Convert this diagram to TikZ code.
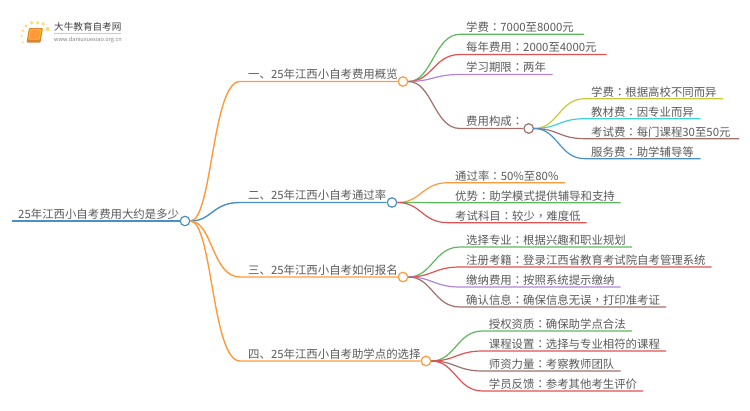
\documentclass[tikz,border=0pt]{standalone}
\usepackage{fontspec}
\setmainfont{Noto Sans CJK SC}
\newfontfamily\puncfont{Noto Sans CJK TC}
\newcommand{\mhao}{{\puncfont ：}}
\newcommand{\dhao}{{\puncfont ，}}
\usetikzlibrary{positioning,arrows.meta}
\definecolor{corange}{HTML}{FF9A3C}
\definecolor{cblue}{HTML}{4A90C8}
\definecolor{cgreen}{HTML}{5DB85D}
\definecolor{cred}{HTML}{E05252}
\definecolor{cpurple}{HTML}{B286D6}
\definecolor{cbrown}{HTML}{A0706A}
\definecolor{colive}{HTML}{C9C940}
\definecolor{ccyan}{HTML}{3FCFE0}
\definecolor{ctext}{HTML}{5A5A5A}
\begin{document}
\begin{tikzpicture}[x=1pt,y=-1pt,
  hub/.style={circle,draw,fill=white,line width=1.2pt,minimum size=9.5pt,inner sep=0pt},
  label/.style={anchor=base west,inner sep=0pt,yshift=2.7pt,text=ctext,font=\fontsize{11.4pt}{13pt}\selectfont},
  trunk/.style={line width=1.4pt},
  twig/.style={line width=1.2pt}]
\useasboundingbox (0,0) rectangle (750,410);
% logo
\foreach \px/\py/\pr in {22.7/30.7/1.4,26/26/1.7,31.7/22.7/1.9,37.7/22.7/1.9,43.3/24/1.9,47.7/29/2.1,21.7/36/1.2,23/42/1}
  \fill[corange!60!yellow,opacity=.6] (\px,\py) circle (\pr);
\fill[corange!85!black,rounded corners=1pt] (29,28) -- (43,28) -- (40.5,42.5) -- (26.5,42.5) -- cycle;
\fill[yellow!60!orange,rounded corners=.6pt] (30,29) -- (41.5,29) -- (39.8,39.5) -- (28.2,39.5) -- cycle;
\fill[corange] (31,29.5) -- (40.5,29.5) -- (38.8,39) -- (29.2,39) -- cycle;
\node[anchor=base west,inner sep=0pt,text=black!75,font=\fontsize{9.6pt}{11pt}\selectfont] (logoname) at (54,30.8) {大牛教育自考网};
\draw[black!20,line width=.5pt] (54,33) -- (121,33);
\node[anchor=base west,inner sep=0pt,text=black!50,font=\fontsize{5.6pt}{7pt}\selectfont] (logourl) at (54,41) {www.daniuxuexiao.org.cn};
% root
\coordinate (start) at (12,221);
\node[hub,draw=cblue] (root) at (185,221) {};
\node[label] (title) at (18,221) {25年江西小自考费用大约是多少};
\draw[trunk,cblue] (start) -- (root.west);
% main branches
\foreach \nm/\yy/\xe/\col/\txt in {a/81.5/403/corange/一、25年江西小自考费用概览,b/202.5/392/cblue/二、25年江西小自考通过率,c/277/403/corange/三、25年江西小自考如何报名,d/361/426/corange/四、25年江西小自考助学点的选择}{
  \coordinate (\nm-s) at (240,\yy);
  \node[hub,draw=\col] (\nm) at (\xe,\yy) {};
  \node[label] (\nm-t) at (248,\yy) {\txt};
  \draw[trunk,color=\col] (root.east) .. controls +(22,0) and +(-28,0) .. (\nm-s) -- (\nm.west);
}
% first branch
\foreach \nm/\yy/\xe/\col/\txt in {a1/34.3/584/cgreen/学费\mhao 7000至8000元,a2/54.5/606.7/cred/每年费用\mhao 2000至4000元,a3/74.5/552.7/cpurple/学习期限\mhao 两年}{
  \coordinate (\nm-s) at (460,\yy);
  \coordinate (\nm-e) at (\xe,\yy);
  \node[label] (\nm) at (466,\yy) {\txt};
  \draw[twig,color=\col] (a.east) .. controls +(24,0) and +(-26,0) .. (\nm-s) -- (\nm-e);
}
\coordinate (a4-s) at (460,128.5);
\node[hub,draw=cbrown] (a4) at (528.7,128.5) {};
\node[label] (a4-t) at (466,128.5) {费用构成\mhao};
\draw[twig,cbrown] (a.east) .. controls +(24,0) and +(-26,0) .. (a4-s) -- (a4.west);
\foreach \nm/\yy/\xe/\col/\txt in {e1/98.7/723/colive/学费\mhao 根据高校不同而异,e2/118.7/700.7/ccyan/教材费\mhao 因专业而异,e3/138.7/739/cbrown/考试费\mhao 每门课程30至50元,e4/158.7/700.7/cblue/服务费\mhao 助学辅导等}{
  \coordinate (\nm-s) at (585,\yy);
  \coordinate (\nm-e) at (\xe,\yy);
  \node[label] (\nm) at (591,\yy) {\txt};
  \draw[twig,color=\col] (a4.east) .. controls +(24,0) and +(-26,0) .. (\nm-s) -- (\nm-e);
}
% second branch
\foreach \nm/\yy/\xe/\col/\txt in {b1/182.7/565/corange/通过率\mhao 50\%至80\%,b2/202.7/620.7/cgreen/优势\mhao 助学模式提供辅导和支持,b3/222.7/586.7/cred/考试科目\mhao 较少\dhao 难度低}{
  \coordinate (\nm-s) at (448,\yy);
  \coordinate (\nm-e) at (\xe,\yy);
  \node[label] (\nm) at (455,\yy) {\txt};
  \draw[twig,color=\col] (b.east) .. controls +(24,0) and +(-26,0) .. (\nm-s) -- (\nm-e);
}
% third branch
\foreach \nm/\yy/\xe/\col/\txt in {c1/247/632/cgreen/选择专业\mhao 根据兴趣和职业规划,c2/267/711.7/cred/注册考籍\mhao 登录江西省教育考试院自考管理系统,c3/287/620.7/cpurple/缴纳费用\mhao 按照系统提示缴纳,c4/307/666/cbrown/确认信息\mhao 确保信息无误\dhao 打印准考证}{
  \coordinate (\nm-s) at (460,\yy);
  \coordinate (\nm-e) at (\xe,\yy);
  \node[label] (\nm) at (466,\yy) {\txt};
  \draw[twig,color=\col] (c.east) .. controls +(24,0) and +(-26,0) .. (\nm-s) -- (\nm-e);
}
% fourth branch
\foreach \nm/\yy/\xe/\col/\txt in {d1/331/632/cgreen/授权资质\mhao 确保助学点合法,d2/351/666/cred/课程设置\mhao 选择与专业相符的课程,d3/371/620.7/cbrown/师资力量\mhao 考察教师团队,d4/391/643/cred/学员反馈\mhao 参考其他考生评价}{
  \coordinate (\nm-s) at (482.7,\yy);
  \coordinate (\nm-e) at (\xe,\yy);
  \node[label] (\nm) at (488.7,\yy) {\txt};
  \draw[twig,color=\col] (d.east) .. controls +(24,0) and +(-26,0) .. (\nm-s) -- (\nm-e);
}
\end{tikzpicture}
\end{document}
